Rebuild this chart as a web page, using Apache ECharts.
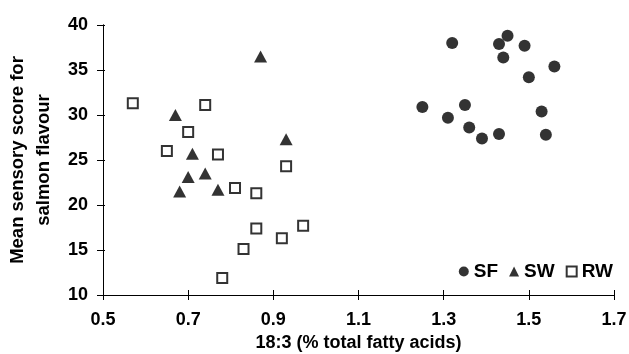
<!DOCTYPE html>
<html><head><meta charset="utf-8">
<script src="https://cdn.jsdelivr.net/npm/echarts@6/dist/echarts.min.js"></script>
<style>html,body{margin:0;padding:0;background:#fff}#c{width:629px;height:354px}</style>
</head><body><div id="c"></div>
<script>
const sfX = [1.32,1.43,1.45,1.49,1.44,1.56,1.50,1.25,1.35,1.53,1.31,1.36,1.39,1.43,1.54];
const sfY = [38.0,37.9,38.8,37.7,36.4,35.4,34.2,30.9,31.1,30.4,29.7,28.6,27.4,27.9,27.8];
const swX = [0.87,0.67,0.93,0.71,0.70,0.74,0.68,0.77];
const swY = [36.5,30.0,27.3,25.7,23.1,23.5,21.5,21.7];
const rwX = [0.57,0.74,0.70,0.65,0.77,0.93,0.81,0.86,0.86,0.97,0.92,0.83,0.78];
const rwY = [31.3,31.1,28.1,26.0,25.6,24.3,21.9,21.3,17.4,17.7,16.3,15.1,11.9];
const seriesNames = ['SF','SW','RW'];
const xTitle = '18:3 (% total fatty acids)';
const yTitle = 'Mean sensory score for\nsalmon flavour';

const zip = (a,b) => a.map((v,i)=>[v,b[i]]);
const font = 'Liberation Sans, Arial, sans-serif';
const chart = echarts.init(document.getElementById('c'));
const axisBase = {
  axisLine:{show:true,onZero:false,lineStyle:{color:'#000',width:1}},
  splitLine:{show:false}
};
chart.setOption({
  animation:false,
  backgroundColor:'#fff',
  grid:{left:103,right:15,top:25,bottom:59,containLabel:false,outerBoundsMode:'none'},
  legend:{
    data:[
      {name:'SF',icon:'circle'},
      {name:'SW',icon:'triangle'},
      {name:'RW',icon:'rect'}
    ],
    right:11, top:257, itemWidth:10, itemHeight:10, itemGap:11,
    textStyle:{fontFamily:font,fontWeight:'bold',fontSize:19,color:'#000'}
  },
  xAxis:[
    Object.assign({}, axisBase, {
      type:'value', min:0.5, max:1.7, interval:0.2,
      axisTick:{show:true,inside:false,length:5,lineStyle:{color:'#000'}},
      axisLabel:{color:'#000',fontFamily:font,fontWeight:'bold',fontSize:18,margin:16,
        formatter:v=>v.toFixed(1)},
      name:xTitle, nameLocation:'middle', nameGap:38,
      nameTextStyle:{color:'#000',fontFamily:font,fontWeight:'bold',fontSize:18}
    }),
    Object.assign({}, axisBase, {
      type:'value', min:0.5, max:1.7, interval:0.2, position:'bottom',
      axisTick:{show:true,inside:true,length:5,lineStyle:{color:'#000'}},
      axisLabel:{show:false}
    })
  ],
  yAxis:[
    Object.assign({}, axisBase, {
      type:'value', min:10, max:40, interval:5,
      axisTick:{show:true,inside:false,length:6,lineStyle:{color:'#000'}},
      axisLabel:{color:'#000',fontFamily:font,fontWeight:'bold',fontSize:18,margin:15},
      name:yTitle, nameLocation:'middle', nameGap:45, nameRotate:90,
      nameTextStyle:{color:'#000',fontFamily:font,fontWeight:'bold',fontSize:18.5,lineHeight:26}
    }),
    Object.assign({}, axisBase, {
      type:'value', min:10, max:40, interval:5, position:'left',
      axisTick:{show:true,inside:true,length:2,lineStyle:{color:'#000'}},
      axisLabel:{show:false}
    })
  ],
  series:[
    {name:seriesNames[0],type:'scatter',symbol:'circle',symbolSize:12,
     itemStyle:{color:'#000'},data:zip(sfX,sfY)},
    {name:seriesNames[1],type:'scatter',symbol:'triangle',symbolSize:[13,12],
     itemStyle:{color:'#000'},data:zip(swX,swY)},
    {name:seriesNames[2],type:'scatter',symbol:'rect',symbolSize:10,
     itemStyle:{color:'#fff',borderColor:'#000',borderWidth:2},data:zip(rwX,rwY)}
  ]
});
</script></body></html>
